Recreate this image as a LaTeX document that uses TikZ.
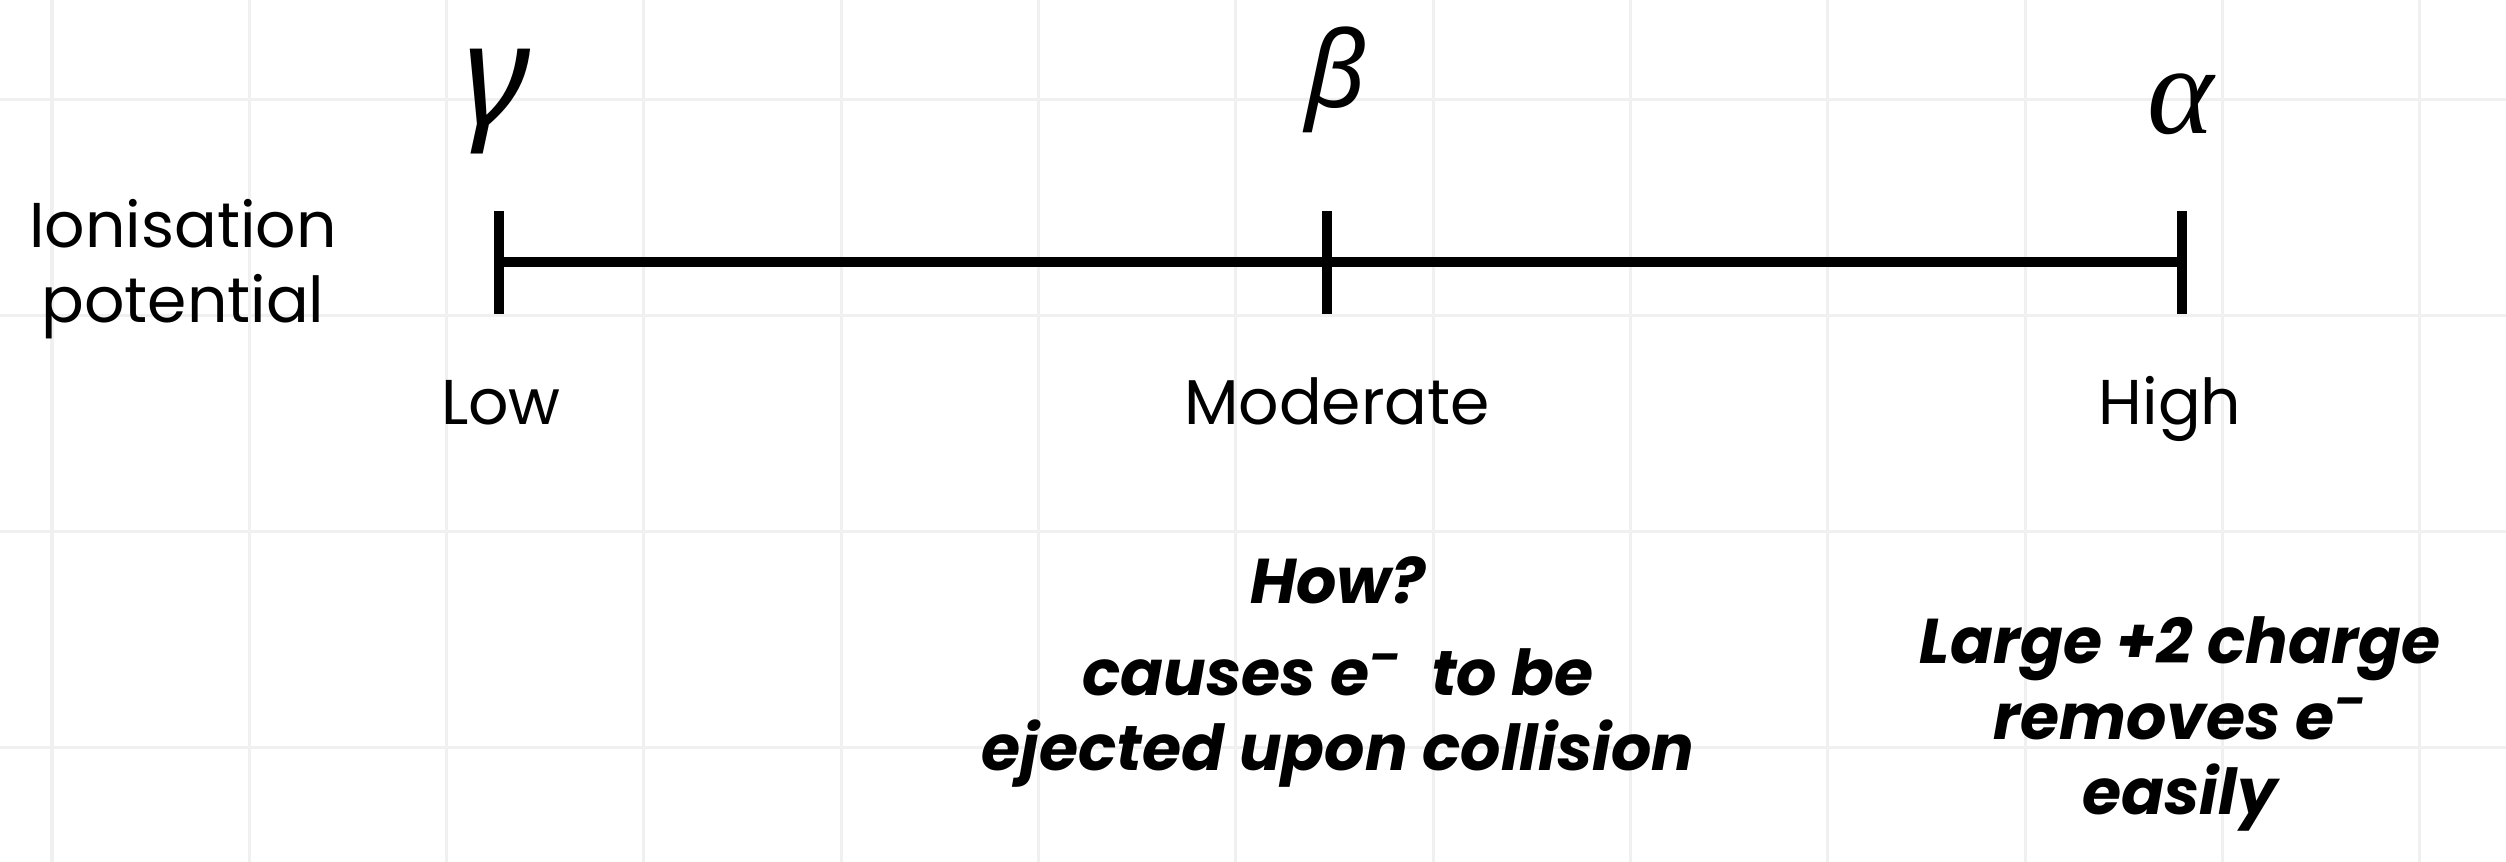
\documentclass[tikz,border=0pt]{standalone}
\usepackage{fontspec}
\setmainfont{Poppins}
\newfontfamily\greeksans{Noto Sans}
\newfontfamily\greekserif{Liberation Serif}
\usepackage{xcolor}
\usepackage{tikz}
\usetikzlibrary{positioning}

\definecolor{gridgray}{HTML}{F0F0F0}

\tikzset{
  gridline/.style={draw=gridgray, line width=0.03cm},
  axisline/.style={line width=0.1cm, line cap=butt},
  label/.style={font=\fontsize{18}{21.6}\selectfont, inner sep=0pt, align=center},
  note/.style={font=\fontsize{18}{21.6}\selectfont\bfseries\itshape, inner sep=0pt, align=center},
}

\begin{document}
\begin{tikzpicture}[x=0.01cm,y=-0.01cm]
\useasboundingbox (0,0) rectangle (2506,862);
\foreach \i in {0,...,12}
  \draw[gridline] (52+197.3*\i,0) -- (52+197.3*\i,862);
\foreach \j in {0,...,3}
  \draw[gridline] (0,100+216*\j) -- (2506,100+216*\j);

\coordinate (low)  at (499,262);
\coordinate (mod)  at (1327,262);
\coordinate (high) at (2182,262);
\draw[axisline] (low) -- (high);
\foreach \p in {low,mod,high}
  \draw[axisline] (\p) ++(0,-51) -- ++(0,103);

% base anchor of a multi-line node = last line
\node[label, anchor=base] (ion) at (183,323) {Ionisation\\potential};

\node[inner sep=0pt, anchor=base, font=\greeksans\itshape\bfseries\fontsize{40}{40}\selectfont] (gamma) at (497,125) {γ};
\node[inner sep=0pt, anchor=base, font=\greeksans\itshape\fontsize{30}{30}\selectfont] (beta) at (1336,108) {β};
\node[inner sep=0pt, anchor=base, font=\greekserif\itshape\fontsize{36}{36}\selectfont] (alpha) at (2181,134) {α};

\node[label, anchor=base] (lowtxt)  at (501,425)  {Low};
\node[label, anchor=base] (modtxt)  at (1337,425) {Moderate};
\node[label, anchor=base] (hightxt) at (2170,425) {High};

\node[note, anchor=base] (how) at (1338,604) {How?};
\node[note, anchor=base] (howtxt) at (1338,771) {causes e\textsuperscript{–}\ \ to be\\ejected upon collision};
\node[note, anchor=base] (alphatxt) at (2180,815) {Large +2 charge\\removes e\textsuperscript{–}\\easily};
\end{tikzpicture}
\end{document}
